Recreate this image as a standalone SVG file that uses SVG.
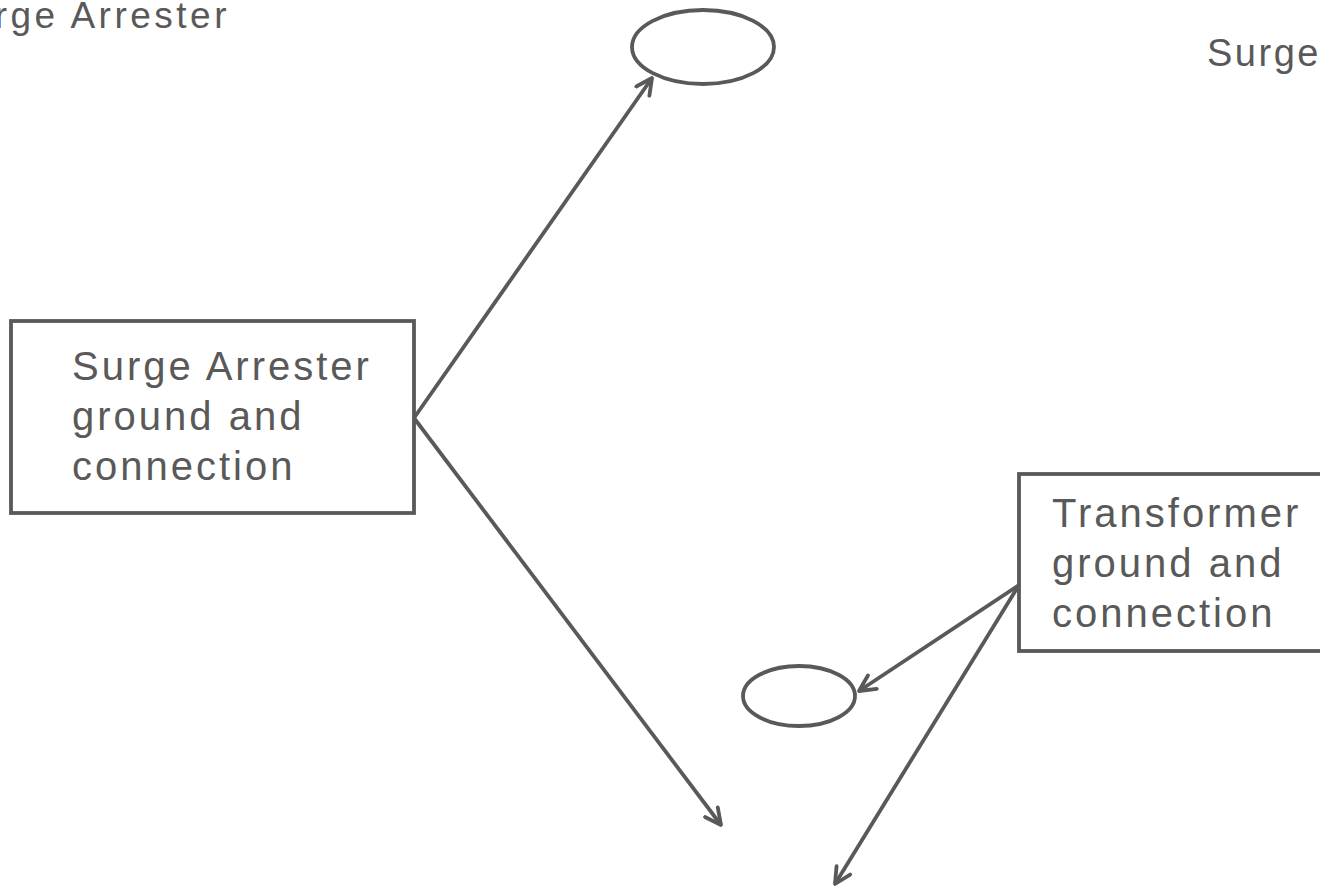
<svg xmlns="http://www.w3.org/2000/svg" width="1320" height="890" viewBox="0 0 1320 890">
<style>
.shape{fill:#fff;stroke:#595959;stroke-width:3.8}
.conn{stroke:#595959;stroke-width:3.8;fill:none;marker-end:url(#ah)}
.t{font-family:"Liberation Sans",Arial,sans-serif;fill:#595959}
.big{font-size:40px;letter-spacing:3px}
.lbl{font-size:38px;letter-spacing:2.5px}
.lbl2{font-size:37px;letter-spacing:3.5px}
</style>
<defs>
<marker id="ah" viewBox="0 0 20 20" refX="18" refY="10" markerWidth="20" markerHeight="20" markerUnits="userSpaceOnUse" orient="auto">
<path d="M2,2 L18,10 L2,18" fill="none" stroke="#595959" stroke-width="3.8" stroke-linejoin="round" stroke-linecap="round"/>
</marker>
</defs>
<rect width="1320" height="890" fill="#fff"/>
<g id="label-left"><text class="t lbl2" x="230" y="28" text-anchor="end">Surge Arrester</text></g>
<g id="label-right"><text class="t lbl" x="1207" y="66">Surge</text></g>
<g id="ellipse-top"><ellipse class="shape" cx="703" cy="47" rx="71" ry="37"/></g>
<g id="ellipse-small"><ellipse class="shape" cx="799" cy="696" rx="56" ry="30"/></g>
<g id="box-surge">
<rect class="shape" x="11" y="321" width="403" height="192"/>
<text class="t big" x="72" y="380">Surge Arrester</text>
<text class="t big" x="72" y="430">ground and</text>
<text class="t big" x="72" y="480">connection</text>
</g>
<g id="box-transformer">
<rect class="shape" x="1019" y="474" width="320" height="177"/>
<text class="t big" x="1052" y="527">Transformer</text>
<text class="t big" x="1052" y="577">ground and</text>
<text class="t big" x="1052" y="627">connection</text>
</g>
<g id="connectors">
<line class="conn" x1="414" y1="418" x2="652" y2="78"/>
<line class="conn" x1="414" y1="418" x2="721" y2="825"/>
<line class="conn" x1="1019" y1="585" x2="859" y2="691"/>
<line class="conn" x1="1019" y1="585" x2="835" y2="884"/>
</g>
</svg>
